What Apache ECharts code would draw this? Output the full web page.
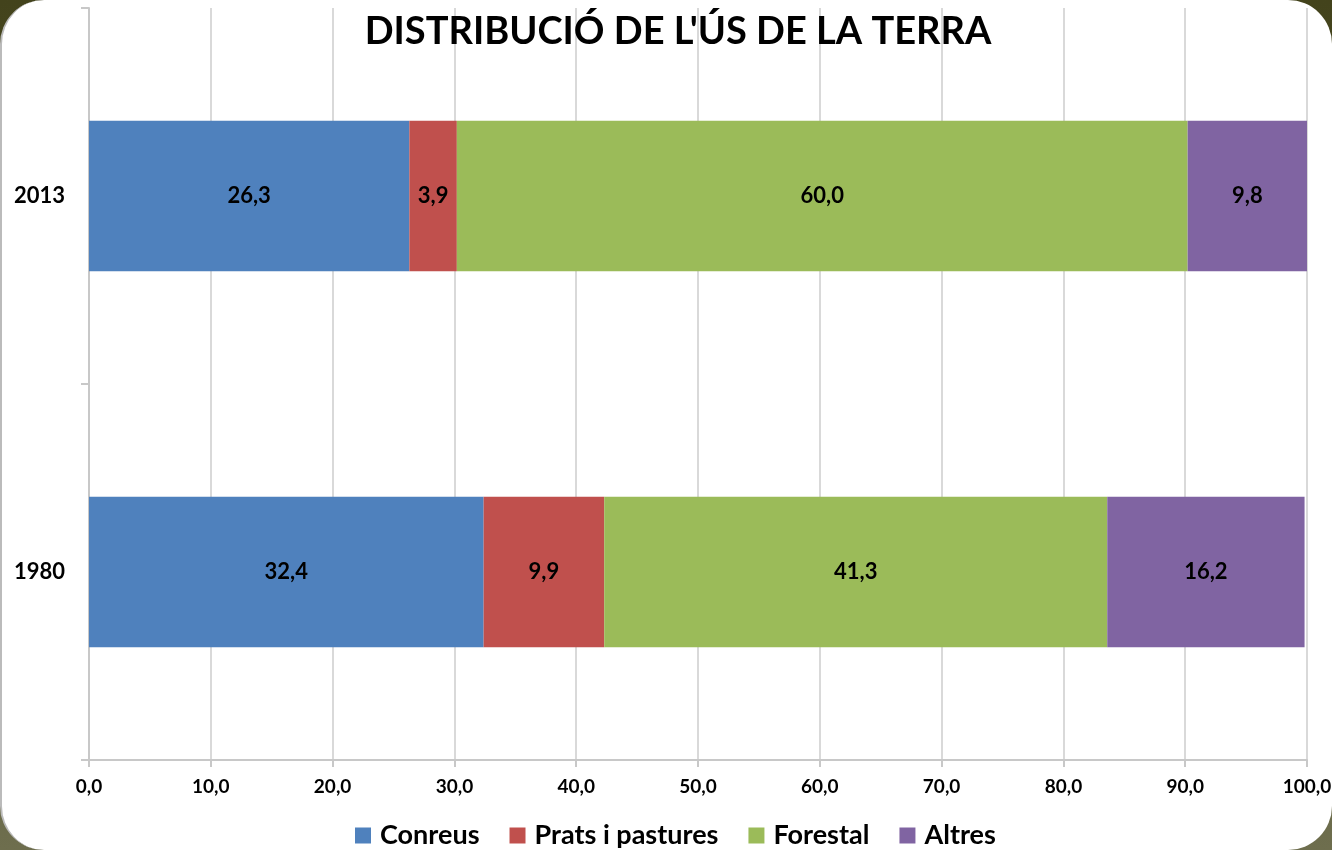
<!DOCTYPE html>
<html>
<head>
<meta charset="utf-8">
<script src="https://cdn.jsdelivr.net/npm/echarts@6/dist/echarts.min.js"></script>
<style>
  html, body { margin: 0; padding: 0; }
  body {
    width: 1332px; height: 850px; overflow: hidden;
    background: linear-gradient(to bottom, #43431c 0%, #55552f 50%, #6e6e4e 100%);
  }
  #frame {
    position: absolute; left: 0; top: 0; width: 1332px; height: 850px;
    background: #fff; border-radius: 44px; border-left: 2px solid #bbb;
    box-sizing: border-box;
  }
  #chart { position: absolute; left: 0; top: 0; width: 1332px; height: 850px; }
</style>
</head>
<body>
<div id="frame"></div>
<div id="chart"></div>
<script>
// dades
var anys = ['1980', '2013'];
var conreus = [32.4, 26.3];
var prats = [9.9, 3.9];
var forestal = [41.3, 60.0];
var altres = [16.2, 9.8];

var colors = ['#4f81bd', '#c0504d', '#9bbb59', '#8064a2'];
var FONT = 'Lato, "Open Sans", sans-serif';

function fmt(v) {
    return v.toFixed(1).replace('.', ',');
}

function serie(name, data) {
    return {
        name: name,
        type: 'bar',
        stack: 'total',
        barWidth: '40%',
        data: data,
        label: {
            show: true,
            position: 'inside',
            color: '#000',
            fontFamily: FONT,
            fontWeight: 'bold',
            fontSize: 22,
            formatter: function (p) { return fmt(p.value); }
        }
    };
}

var myChart = echarts.init(document.getElementById('chart'), null, {renderer: 'canvas'});
var option = {
    color: colors,
    title: {
        text: "DISTRIBUCIÓ DE L'ÚS DE LA TERRA",
        left: 673,
        textAlign: 'center',
        top: 8,
        textStyle: {
            fontFamily: FONT,
            fontWeight: 'bold',
            fontSize: 38,
            color: '#000'
        }
    },
    legend: {
        bottom: -4,
        left: 355,
        itemWidth: 16,
        itemHeight: 16,
        itemGap: 30,
        icon: 'rect',
        padding: [5, 0, 5, 0],
        textStyle: {
            fontFamily: FONT,
            fontWeight: 'bold',
            fontSize: 27,
            color: '#000',
            padding: [0, 0, 0, 4]
        },
        data: ['Conreus', 'Prats i pastures', 'Forestal', 'Altres']
    },
    grid: {
        left: 89,
        right: 25,
        top: 8,
        bottom: 90,
        outerBoundsMode: 'none',
        containLabel: false
    },
    xAxis: {
        type: 'value',
        min: 0,
        max: 100,
        interval: 10,
        axisLine: { show: true, lineStyle: { color: '#c8c8c8', width: 2 } },
        axisTick: { show: true, length: 7, lineStyle: { color: '#c8c8c8', width: 2 } },
        splitLine: { show: true, lineStyle: { color: '#d9d9d9', width: 2 } },
        axisLabel: {
            margin: 17,
            color: '#000',
            fontFamily: FONT,
            fontWeight: 'bold',
            fontSize: 19,
            formatter: function (v) { return fmt(v); }
        }
    },
    yAxis: {
        type: 'category',
        data: anys,
        axisLine: { show: true, lineStyle: { color: '#c8c8c8', width: 2 } },
        axisTick: { show: true, length: 8, lineStyle: { color: '#c8c8c8', width: 2 } },
        axisLabel: {
            margin: 24,
            color: '#000',
            fontFamily: FONT,
            fontWeight: 'bold',
            fontSize: 22
        }
    },
    series: [
        serie('Conreus', conreus),
        serie('Prats i pastures', prats),
        serie('Forestal', forestal),
        serie('Altres', altres)
    ]
};
myChart.setOption(option);
</script>
</body>
</html>
